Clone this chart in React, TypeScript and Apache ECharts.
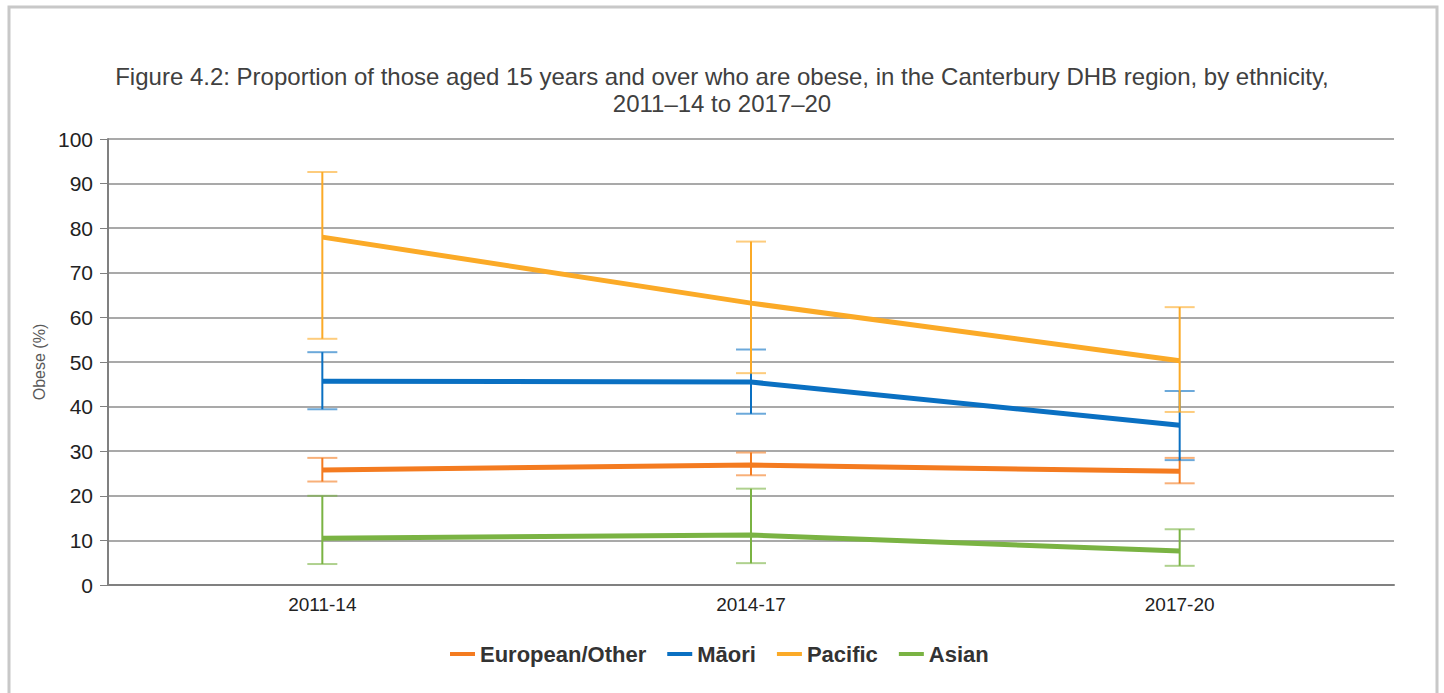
import React, { useEffect, useRef } from "react";
import * as echarts from "echarts";

const categories = ["2011-14", "2014-17", "2017-20"];
const seriesNames = ["European/Other", "Māori", "Pacific", "Asian"];
const colors = ["#F47B20", "#0A70C2", "#FBAA27", "#7AB343"];

const european = [25.8, 26.9, 25.5];
const europeanLow = [23.2, 24.6, 22.8];
const europeanHigh = [28.5, 29.7, 28.5];

const maori = [45.7, 45.5, 35.8];
const maoriLow = [39.4, 38.4, 28.0];
const maoriHigh = [52.2, 52.8, 43.5];

const pacific = [78.0, 63.2, 50.3];
const pacificLow = [55.2, 47.5, 38.8];
const pacificHigh = [92.6, 77.0, 62.3];

const asian = [10.5, 11.2, 7.6];
const asianLow = [4.7, 4.9, 4.3];
const asianHigh = [20.0, 21.6, 12.5];

const values = [european, maori, pacific, asian];
const lows = [europeanLow, maoriLow, pacificLow, asianLow];
const highs = [europeanHigh, maoriHigh, pacificHigh, asianHigh];

const titleText =
  "Figure 4.2: Proportion of those aged 15 years and over who are obese, in the Canterbury DHB region, by ethnicity,\n2011–14 to 2017–20";

export default function App() {
  const ref = useRef<HTMLDivElement>(null);
  useEffect(() => {
    if (!ref.current) return;
    const chart = echarts.init(ref.current, undefined, { renderer: "svg" });
    const font = "'Liberation Sans', Arial, sans-serif";

    const errorSeries = seriesNames.map((name, s) => ({
      type: "custom",
      name: name + " CI",
      z: 2,
      data: categories.map((_, i) => [i, lows[s][i], highs[s][i]]),
      encode: { x: 0, y: [1, 2] },
      renderItem: (params: any, api: any) => {
        const lo = api.coord([api.value(0), api.value(1)]);
        const hi = api.coord([api.value(0), api.value(2)]);
        const hw = 15;
        const color = colors[s];
        return {
          type: "group",
          children: [
            {
              type: "line",
              shape: { x1: lo[0], y1: lo[1], x2: hi[0], y2: hi[1] },
              style: { stroke: color, lineWidth: 2 },
            },
            {
              type: "line",
              shape: { x1: lo[0] - hw, y1: lo[1], x2: lo[0] + hw, y2: lo[1] },
              style: { stroke: color, lineWidth: 2, opacity: 0.6 },
            },
            {
              type: "line",
              shape: { x1: hi[0] - hw, y1: hi[1], x2: hi[0] + hw, y2: hi[1] },
              style: { stroke: color, lineWidth: 2, opacity: 0.6 },
            },
          ],
        };
      },
    }));

    const lineSeries = seriesNames.map((name, s) => ({
      type: "line",
      name,
      data: values[s],
      showSymbol: false,
      symbol: "none",
      z: 3,
      lineStyle: { width: 5, color: colors[s] },
      itemStyle: { color: colors[s] },
    }));

    chart.setOption({
      animation: false,
      backgroundColor: "#ffffff",
      color: colors,
      textStyle: { fontFamily: font },
      title: {
        text: titleText,
        left: "center",
        top: 58,
        textStyle: {
          fontFamily: font,
          fontSize: 24,
          fontWeight: "normal",
          color: "#404040",
          lineHeight: 27,
        },
      },
      graphic: [
        {
          type: "rect",
          shape: { x: 9, y: 7, width: 1428, height: 700 },
          style: { fill: "none", stroke: "#c8c8c8", lineWidth: 3 },
          silent: true,
        },
      ],
      legend: {
        data: seriesNames.map((n) => ({ name: n, icon: "rect" })),
        bottom: 23,
        left: 445,
        itemWidth: 25,
        itemHeight: 4,
        itemGap: 21,
        textStyle: {
          fontFamily: font,
          fontSize: 22,
          fontWeight: "bold",
          color: "#333333",
        },
      },
      grid: { left: 108, right: 50, top: 139, bottom: 108 },
      xAxis: {
        type: "category",
        data: categories,
        boundaryGap: true,
        axisLine: { lineStyle: { color: "#808080", width: 2 } },
        axisTick: { alignWithLabel: true, length: 6, lineStyle: { color: "#808080", width: 1 } },
        axisLabel: { fontFamily: font, fontSize: 19, color: "#222222", margin: 10 },
      },
      yAxis: {
        type: "value",
        min: 0,
        max: 100,
        interval: 10,
        name: "Obese (%)",
        nameLocation: "middle",
        nameGap: 56,
        nameTextStyle: { fontFamily: font, fontSize: 16, color: "#595959" },
        axisLine: { show: true, lineStyle: { color: "#808080", width: 2 } },
        axisTick: { show: true, length: 8, lineStyle: { color: "#808080", width: 1 } },
        axisLabel: { fontFamily: font, fontSize: 21, color: "#222222", margin: 15 },
        splitLine: { lineStyle: { color: "#8c8c8c", width: 1.5 } },
      },
      series: [...errorSeries, ...lineSeries],
    });
    return () => chart.dispose();
  }, []);
  return (
    <div
      ref={ref}
      style={{ position: "fixed", left: 0, top: 0, width: 1444, height: 693 }}
    />
  );
}
